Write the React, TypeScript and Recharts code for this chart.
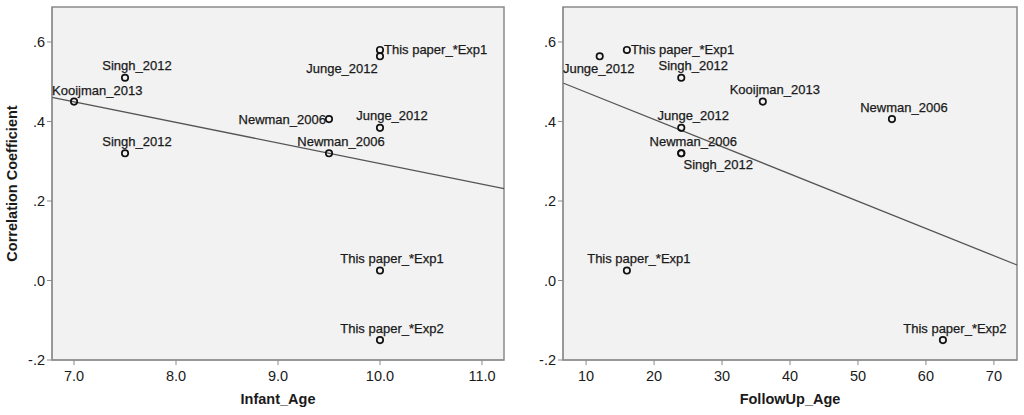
import {
  ScatterChart, Scatter, XAxis, YAxis, ReferenceArea, ReferenceLine, Label,
} from "recharts"

// left panel: correlation vs infant age
const INFANT_AGE = [7.5, 7.0, 7.5, 9.5, 9.5, 10, 10, 10, 10, 10]
const INFANT_R = [0.51, 0.45, 0.32, 0.406, 0.32, 0.384, 0.564, 0.58, 0.025, -0.15]
const INFANT_NAMES = [
  "Singh_2012", "Kooijman_2013", "Singh_2012", "Newman_2006", "Newman_2006",
  "Junge_2012", "Junge_2012", "This paper_*Exp1", "This paper_*Exp1", "This paper_*Exp2",
]

// right panel: correlation vs follow-up age
const FOLLOW_AGE = [12, 16, 24, 36, 55, 24, 24, 24, 16, 62.5]
const FOLLOW_R = [0.564, 0.58, 0.51, 0.45, 0.406, 0.384, 0.32, 0.32, 0.025, -0.15]
const FOLLOW_NAMES = [
  "Junge_2012", "This paper_*Exp1", "Singh_2012", "Kooijman_2013", "Newman_2006",
  "Junge_2012", "Newman_2006", "Singh_2012", "This paper_*Exp1", "This paper_*Exp2",
]

const Y_TICKS = [-0.2, 0, 0.2, 0.4, 0.6]
const INFANT_TICKS = [7, 8, 9, 10, 11]
const FOLLOW_TICKS = [10, 20, 30, 40, 50, 60, 70]

// where each point label sits relative to its marker
const INFANT_PLACE = ["top", "topStart", "top", "left", "top", "top", "belowLeft", "right", "top", "top"]
const FOLLOW_PLACE = ["below", "right", "top", "top", "top", "top", "top", "belowRight", "top", "top"]

const PLACES: Record<string, { dx: number; dy: number; anchor: string }> = {
  top: { dx: 12, dy: -12, anchor: "middle" },
  topStart: { dx: -22, dy: -11, anchor: "start" },
  left: { dx: -3, dy: 0, anchor: "end" },
  right: { dx: 4, dy: 0, anchor: "start" },
  below: { dx: -1, dy: 12.5, anchor: "middle" },
  belowLeft: { dx: -38, dy: 12, anchor: "middle" },
  belowRight: { dx: 37, dy: 11, anchor: "middle" },
}

const Y_DOMAIN: [number, number] = [-0.2, 0.688]
const FONT = "'Liberation Sans', Arial, sans-serif"
const INK = "#1a1a1a"
const FRAME = "#8a8a8a"

function fit(xs: number[], ys: number[]) {
  const n = xs.length
  const mx = xs.reduce((a, b) => a + b, 0) / n
  const my = ys.reduce((a, b) => a + b, 0) / n
  let sxx = 0
  let sxy = 0
  xs.forEach((x, i) => {
    sxx += (x - mx) * (x - mx)
    sxy += (x - mx) * (ys[i] - my)
  })
  const slope = sxy / sxx
  return { slope, intercept: my - slope * mx }
}

const fmtR = (v: number) => v.toFixed(1).replace(/^(-?)0\./, "$1.")

function PointShape(props: any) {
  const { cx, cy, payload } = props
  const p = PLACES[payload.place] ?? PLACES.top
  return (
    <g>
      <circle cx={cx} cy={cy} r={3.2} fill="none" stroke="#111" strokeWidth={1.7} />
      <text
        x={cx + p.dx}
        y={cy + p.dy}
        dy="0.35em"
        textAnchor={p.anchor}
        fontFamily={FONT}
        fontSize={13}
        fill={INK}
        stroke={INK}
        strokeWidth={0.25}
      >
        {payload.name}
      </text>
    </g>
  )
}

interface PanelProps {
  xs: number[]
  ys: number[]
  names: string[]
  places: string[]
  xDomain: [number, number]
  xTicks: number[]
  xFmt: (v: number) => string
  xTitle: string
  yTitle?: string
  yWidth: number
  marginRight: number
}

function Panel({ xs, ys, names, places, xDomain, xTicks, xFmt, xTitle, yTitle, yWidth, marginRight }: PanelProps) {
  const data = xs.map((x, i) => ({ x, y: ys[i], name: names[i], place: places[i] }))
  const { slope, intercept } = fit(xs, ys)
  const seg = xDomain.map((x) => ({ x, y: intercept + slope * x }))
  const tickStyle = { fill: INK, fontSize: 14.5, fontFamily: FONT }

  return (
    <ScatterChart width={512} height={415} margin={{ top: 7, right: marginRight, bottom: 0, left: 0 }}>
      <XAxis
        type="number"
        dataKey="x"
        domain={xDomain}
        ticks={xTicks}
        tickFormatter={xFmt}
        allowDataOverflow
        height={55}
        tickSize={5}
        tickMargin={6}
        stroke={FRAME}
        tick={tickStyle}
      >
        <Label
          content={({ viewBox }: any) => (
            <text
              x={viewBox.x + viewBox.width / 2}
              y={404}
              textAnchor="middle"
              fontFamily={FONT}
              fontWeight="bold"
              fontSize={14.5}
              fill={INK}
            >
              {xTitle}
            </text>
          )}
        />
      </XAxis>
      <YAxis
        type="number"
        dataKey="y"
        domain={Y_DOMAIN}
        ticks={Y_TICKS}
        tickFormatter={fmtR}
        allowDataOverflow
        width={yWidth}
        tickSize={5}
        tickMargin={2}
        stroke={FRAME}
        tick={tickStyle}
      >
        {yTitle && (
          <Label
            content={({ viewBox }: any) => {
              const cx = viewBox.x + 12
              const cy = viewBox.y + viewBox.height / 2
              return (
                <text
                  x={cx}
                  y={cy}
                  dy="0.35em"
                  textAnchor="middle"
                  transform={`rotate(-90 ${cx} ${cy})`}
                  fontFamily={FONT}
                  fontWeight="bold"
                  fontSize={14.5}
                  fill={INK}
                >
                  {yTitle}
                </text>
              )
            }}
          />
        )}
      </YAxis>
      <ReferenceArea
        x1={xDomain[0]}
        x2={xDomain[1]}
        y1={Y_DOMAIN[0]}
        y2={Y_DOMAIN[1]}
        fill="#f2f2f2"
        fillOpacity={1}
        stroke={FRAME}
        strokeWidth={1.5}
        ifOverflow="visible"
      />
      <ReferenceLine segment={seg} stroke="#555" strokeWidth={1.3} ifOverflow="visible" />
      <Scatter data={data} shape={PointShape} isAnimationActive={false} />
    </ScatterChart>
  )
}

export default function App() {
  return (
    <div style={{ position: "absolute", left: 0, top: 0, width: 1024, height: 415, background: "#fff", display: "flex" }}>
      <Panel
        xs={INFANT_AGE}
        ys={INFANT_R}
        names={INFANT_NAMES}
        places={INFANT_PLACE}
        xDomain={[6.784, 11.216]}
        xTicks={INFANT_TICKS}
        xFmt={(v) => v.toFixed(1)}
        xTitle="Infant_Age"
        yTitle="Correlation Coefficient"
        yWidth={52}
        marginRight={8}
      />
      <Panel
        xs={FOLLOW_AGE}
        ys={FOLLOW_R}
        names={FOLLOW_NAMES}
        places={FOLLOW_PLACE}
        xDomain={[6.6, 73.4]}
        xTicks={FOLLOW_TICKS}
        xFmt={(v) => String(v)}
        xTitle="FollowUp_Age"
        yWidth={51}
        marginRight={7}
      />
    </div>
  )
}
